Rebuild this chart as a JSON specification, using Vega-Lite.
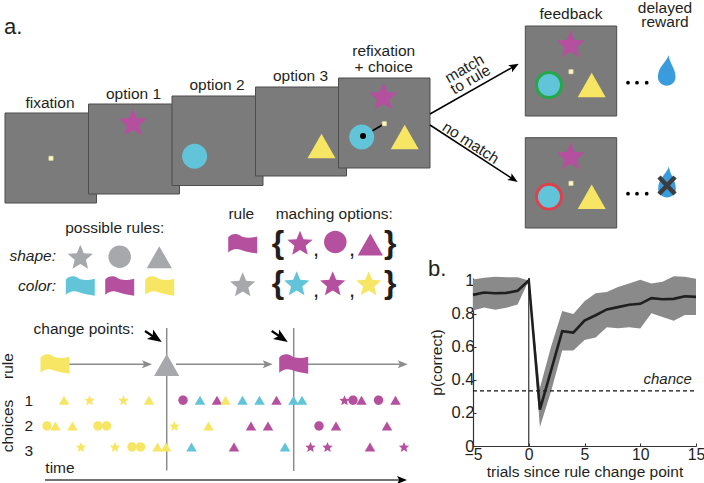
{
"$schema":"https://vega.github.io/schema/vega-lite/v6.json",
"padding":0,"spacing":0,"bounds":"flush","background":"white",
"config":{"view":{"stroke":null},"font":"Liberation Sans","concat":{"spacing":0},"text":{"font":"Liberation Sans"}},
"vconcat":[
{"width":704,"height":277,
"encoding":{
"x":{"field":"x","type":"quantitative","scale":{"domain":[0,704],"nice":false,"zero":false},"axis":null},
"y":{"field":"y","type":"quantitative","scale":{"domain":[277,0],"nice":false,"zero":false},"axis":null},
"color":{"field":"hue","type":"nominal","legend":null,"scale":{"domain":["magenta","cyan","yellow","gray","green","red","blue","black","line","dark","cross"],"range":["#b5509f","#62c4d9","#f7e663","#a7a8ab","#25a84a","#e0404a","#3a9cdc","#000000","#8c8c8c","#444444","#3d3d3f"]}}
},
"layer":[
{"data":{"values":[
{"name":"fixation","x":4,"x2":95.5,"y":112,"y2":202},
{"name":"option 1","x":87.5,"x2":178.5,"y":103,"y2":193},
{"name":"option 2","x":171,"x2":262,"y":95,"y2":184.5},
{"name":"option 3","x":254.5,"x2":345.5,"y":86,"y2":175},
{"name":"choice","x":337.5,"x2":429,"y":77,"y2":167},
{"name":"match","x":524.3,"x2":615.7,"y":25,"y2":115},
{"name":"no match","x":524.3,"x2":615.7,"y":136.7,"y2":227}]},
"mark":{"type":"rect","fill":"#7b7b7b","stroke":"#4d4d4d","strokeWidth":1},
"encoding":{"x2":{"field":"x2"},"y2":{"field":"y2"},"color":{"value":"#7b7b7b"}}},
{"data":{"values":[
{"x":429,"y":113,"x2":514,"y2":64.8,"hue":"black"},
{"x":429,"y":124,"x2":513,"y2":178.7,"hue":"black"},
{"x":383,"y":123,"x2":361,"y2":136,"hue":"black"},
{"x":68,"y":363.3,"x2":146,"y2":363.3,"hue":"line"},
{"x":175,"y":363.3,"x2":266,"y2":363.3,"hue":"line"},
{"x":305,"y":363.3,"x2":400,"y2":363.3,"hue":"line"},
{"x":165.7,"y":327,"x2":165.7,"y2":469.5,"hue":"line"},
{"x":292.7,"y":327,"x2":292.7,"y2":470,"hue":"line"},
{"x":44,"y":479,"x2":402,"y2":479,"hue":"dark"}]},
"mark":{"type":"rule","strokeWidth":1.5},
"encoding":{"x2":{"field":"x2"},"y2":{"field":"y2"}}},
{"data":{"values":[
{"x":144,"y":330,"x2":155,"y2":337.3,"hue":"black"},
{"x":270.7,"y":330,"x2":281.7,"y2":337.3,"hue":"black"}]},
"mark":{"type":"rule","strokeWidth":2.2},
"encoding":{"x2":{"field":"x2"},"y2":{"field":"y2"}}},
{"data":{"values":[
{"x":513.4,"y":65.2,"turn":330.4,"hue":"black"},
{"x":512.5,"y":178.3,"turn":33,"hue":"black"},
{"x":146,"y":363.3,"turn":0,"hue":"line"},
{"x":266.7,"y":363.3,"turn":0,"hue":"line"},
{"x":401.7,"y":363.3,"turn":0,"hue":"line"},
{"x":401,"y":479,"turn":0,"hue":"black"}]},
"mark":{"type":"point","filled":true,"opacity":1,"size":100,"shape":"M1,0L-1,-.8L-.55,0L-1,.8Z"},
"encoding":{"angle":{"field":"turn","type":"quantitative","scale":null}}},
{"data":{"values":[
{"x":154.9,"y":337.1,"turn":33.4,"hue":"black"},
{"x":280.9,"y":337.1,"turn":33.4,"hue":"black"}]},
"mark":{"type":"point","filled":true,"opacity":1,"size":196,"shape":"M1,0L-1,-.8L-.55,0L-1,.8Z"},
"encoding":{"angle":{"field":"turn","type":"quantitative","scale":null}}},
{"data":{"values":[
{"x":132,"y":121,"glyph":"star","hue":"magenta"},
{"x":193.6,"y":155.3,"glyph":"circle","hue":"cyan"},
{"x":320.5,"y":145,"glyph":"triangle","hue":"yellow"},
{"x":382.3,"y":95,"glyph":"star","hue":"magenta"},
{"x":360.7,"y":136,"glyph":"circle","hue":"cyan"},
{"x":403.7,"y":136,"glyph":"triangle","hue":"yellow"},
{"x":569.7,"y":42.7,"glyph":"star","hue":"magenta"},
{"x":548,"y":84,"glyph":"circle","hue":"cyan"},
{"x":590.7,"y":84,"glyph":"triangle","hue":"yellow"},
{"x":569.7,"y":154.7,"glyph":"star","hue":"magenta"},
{"x":548,"y":195.7,"glyph":"circle","hue":"cyan"},
{"x":590.7,"y":195.7,"glyph":"triangle","hue":"yellow"},
{"x":665.7,"y":69.3,"glyph":"drop","hue":"blue"},
{"x":666,"y":181,"glyph":"drop","hue":"blue"}]},
"mark":{"type":"point","filled":true,"opacity":1,"size":784,"strokeWidth":0},
"encoding":{"shape":{"field":"glyph","type":"nominal","legend":null,"scale":{"domain":["star","circle","triangle","flag","drop"],"range":["M0,-.95L.278,-.282L1,-.225L.449,.246L.617,.949L0,.572L-.617,.949L-.449,.246L-1,-.225L-.278,-.282Z","M.893,0A.893,.893 0 1,1 -.893,0A.893,.893 0 1,1 .893,0Z","M0,-.87L1,.87L-1,.87Z","M-1.15,-.52C-.86,-.83 -.46,-.83 -.17,-.63C.17,-.4 .69,-.46 1.15,-.58L1.15,.78C.69,.71 .23,.63 -.17,.48C-.52,.35 -.86,.44 -1.15,.69Z","M.13,-1.1C.05,-.66 -.63,-.27 -.63,.46C-.63,.85 -.33,1.1 0,1.1C.35,1.1 .63,.85 .63,.46C.63,-.11 .22,-.49 .13,-1.1Z"]}}}},
{"data":{"values":[
{"x":548,"y":84,"glyph":"circle","hue":"green"},
{"x":548,"y":195.7,"glyph":"circle","hue":"red"}]},
"mark":{"type":"point","filled":false,"opacity":1,"size":784,"strokeWidth":3,"shape":"M.893,0A.893,.893 0 1,1 -.893,0A.893,.893 0 1,1 .893,0Z"}},
{"data":{"values":[
{"x":79.3,"y":255.7,"glyph":"star","hue":"gray"},
{"x":118.7,"y":255.7,"glyph":"circle","hue":"gray"},
{"x":158.3,"y":256.2,"glyph":"triangle","hue":"gray"},
{"x":79.3,"y":285,"glyph":"flag","hue":"cyan"},
{"x":118.7,"y":285,"glyph":"flag","hue":"magenta"},
{"x":158.7,"y":285,"glyph":"flag","hue":"yellow"},
{"x":241.7,"y":242.7,"glyph":"flag","hue":"magenta"},
{"x":241.7,"y":283.3,"glyph":"star","hue":"gray"},
{"x":299,"y":241.7,"glyph":"star","hue":"magenta"},
{"x":334.3,"y":241,"glyph":"circle","hue":"magenta"},
{"x":369.3,"y":243.5,"glyph":"triangle","hue":"magenta"},
{"x":295.7,"y":282.3,"glyph":"star","hue":"cyan"},
{"x":331.7,"y":282.3,"glyph":"star","hue":"magenta"},
{"x":367.7,"y":282.3,"glyph":"star","hue":"yellow"},
{"x":54,"y":363,"glyph":"flag","hue":"yellow"},
{"x":165.7,"y":364,"glyph":"triangle","hue":"gray"},
{"x":292.7,"y":363,"glyph":"flag","hue":"magenta"}]},
"mark":{"type":"point","filled":true,"opacity":1,"size":635,"strokeWidth":0},
"encoding":{"shape":{"field":"glyph","type":"nominal","legend":null,"scale":{"domain":["star","circle","triangle","flag","drop"],"range":["M0,-.95L.278,-.282L1,-.225L.449,.246L.617,.949L0,.572L-.617,.949L-.449,.246L-1,-.225L-.278,-.282Z","M.893,0A.893,.893 0 1,1 -.893,0A.893,.893 0 1,1 .893,0Z","M0,-.87L1,.87L-1,.87Z","M-1.15,-.52C-.86,-.83 -.46,-.83 -.17,-.63C.17,-.4 .69,-.46 1.15,-.58L1.15,.78C.69,.71 .23,.63 -.17,.48C-.52,.35 -.86,.44 -1.15,.69Z","M.13,-1.1C.05,-.66 -.63,-.27 -.63,.46C-.63,.85 -.33,1.1 0,1.1C.35,1.1 .63,.85 .63,.46C.63,-.11 .22,-.49 .13,-1.1Z"]}}}},
{"data":{"values":[
{"x":50,"y":157.3},{"x":383.3,"y":122.7},{"x":570,"y":70.7},{"x":570,"y":182.3}]},
"mark":{"type":"point","shape":"square","filled":true,"opacity":1,"size":18,"fill":"#fdf6c3","stroke":"#e3d9a0","strokeWidth":0.6},
"encoding":{"color":{"value":"#fdf6c3"}}},
{"data":{"values":[{"x":362,"y":135,"hue":"black"}]},
"mark":{"type":"point","shape":"circle","filled":true,"opacity":1,"size":36}},
{"data":{"values":[
{"x":627,"y":81.7,"hue":"black"},{"x":636,"y":81.7,"hue":"black"},{"x":645.7,"y":81.7,"hue":"black"},
{"x":627,"y":192.7,"hue":"black"},{"x":636,"y":192.7,"hue":"black"},{"x":645.7,"y":192.7,"hue":"black"}]},
"mark":{"type":"point","shape":"circle","filled":true,"opacity":1,"size":14}},
{"data":{"values":[
{"x":658,"y":176,"x2":674,"y2":193,"hue":"cross"},
{"x":674,"y":176,"x2":658,"y2":193,"hue":"cross"}]},
"mark":{"type":"rule","strokeWidth":4.5},
"encoding":{"x2":{"field":"x2"},"y2":{"field":"y2"}}},
{"data":{"values":[
{"x":49,"y":106.7,"label":"fixation"},{"x":132.5,"y":97.5,"label":"option 1"},{"x":216,"y":88.7,"label":"option 2"},{"x":299.5,"y":80,"label":"option 3"},
{"x":382.7,"y":55,"label":"refixation"},{"x":382.7,"y":71,"label":"+ choice"},
{"x":570,"y":18.3,"label":"feedback"},{"x":664,"y":11.7,"label":"delayed"},{"x":664,"y":26,"label":"reward"},
{"x":113.7,"y":232.3,"label":"possible rules:"},{"x":240.3,"y":217.7,"label":"rule"},{"x":333.3,"y":217.7,"label":"maching options:"},
{"x":83,"y":333.3,"label":"change points:"},
{"x":27.7,"y":405,"label":"1"},{"x":27.7,"y":430,"label":"2"},{"x":27.7,"y":455,"label":"3"},
{"x":59,"y":472.3,"label":"time"}]},
"mark":{"type":"text","fontSize":15.5,"align":"center","baseline":"alphabetic"},
"encoding":{"text":{"field":"label"},"color":{"value":"#231f20"}}},
{"data":{"values":[
{"x":55,"y":260,"label":"shape:"},{"x":55,"y":290,"label":"color:"}]},
"mark":{"type":"text","fontSize":15.5,"fontStyle":"italic","align":"right","baseline":"alphabetic"},
"encoding":{"text":{"field":"label"},"color":{"value":"#231f20"}}},
{"data":{"values":[
{"x":11.5,"y":365,"label":"rule","turn":270},
{"x":11.5,"y":425,"label":"choices","turn":270},
{"x":466,"y":72,"label":"match","turn":330},
{"x":472,"y":83,"label":"to rule","turn":330},
{"x":467,"y":146,"label":"no match","turn":33}]},
"mark":{"type":"text","fontSize":15.5,"align":"center","baseline":"alphabetic"},
"encoding":{"text":{"field":"label"},"color":{"value":"#231f20"},"angle":{"field":"turn","type":"quantitative","scale":null}}},
{"data":{"values":[
{"x":277,"y":251.5,"label":"{"},{"x":389.3,"y":251.5,"label":"}"},
{"x":277,"y":291.6,"label":"{"},{"x":389.3,"y":291.6,"label":"}"}]},
"mark":{"type":"text","fontSize":32,"fontWeight":"bold","align":"center","baseline":"alphabetic"},
"encoding":{"text":{"field":"label"},"color":{"value":"#231f20"}}},
{"data":{"values":[
{"x":315,"y":255,"label":","},{"x":351,"y":255,"label":","},
{"x":315,"y":296,"label":","},{"x":351,"y":296,"label":","}]},
"mark":{"type":"text","fontSize":22,"align":"center","baseline":"alphabetic"},
"encoding":{"text":{"field":"label"},"color":{"value":"#231f20"}}},
{"data":{"values":[{"x":3,"y":33,"label":"a."},{"x":427,"y":275,"label":"b."}]},
"mark":{"type":"text","fontSize":22,"align":"left","baseline":"alphabetic"},
"encoding":{"text":{"field":"label"},"color":{"value":"#231f20"}}}
]},
{"spacing":0,"bounds":"flush","hconcat":[
{"width":472,"height":206,
"data":{"values":[
{"trial":0,"lane":425,"glyph":"circle","hue":"yellow"},
{"trial":1,"lane":425,"glyph":"triangle","hue":"yellow"},
{"trial":2,"lane":399.3,"glyph":"triangle","hue":"yellow"},
{"trial":3,"lane":425,"glyph":"triangle","hue":"yellow"},
{"trial":4,"lane":446,"glyph":"star","hue":"yellow"},
{"trial":5,"lane":399.3,"glyph":"star","hue":"yellow"},
{"trial":6,"lane":425,"glyph":"circle","hue":"yellow"},
{"trial":7,"lane":425,"glyph":"circle","hue":"yellow"},
{"trial":8,"lane":446,"glyph":"star","hue":"yellow"},
{"trial":9,"lane":399.3,"glyph":"star","hue":"yellow"},
{"trial":10,"lane":446,"glyph":"circle","hue":"yellow"},
{"trial":11,"lane":446,"glyph":"circle","hue":"yellow"},
{"trial":12,"lane":399.3,"glyph":"triangle","hue":"yellow"},
{"trial":13,"lane":446,"glyph":"triangle","hue":"yellow"},
{"trial":14,"lane":446,"glyph":"triangle","hue":"yellow"},
{"trial":15,"lane":425,"glyph":"star","hue":"yellow"},
{"trial":16,"lane":399.3,"glyph":"circle","hue":"magenta"},
{"trial":17,"lane":446,"glyph":"triangle","hue":"cyan"},
{"trial":18,"lane":399.3,"glyph":"triangle","hue":"cyan"},
{"trial":19,"lane":425,"glyph":"triangle","hue":"yellow"},
{"trial":20,"lane":399.3,"glyph":"triangle","hue":"magenta"},
{"trial":21,"lane":399.3,"glyph":"triangle","hue":"yellow"},
{"trial":22,"lane":446,"glyph":"triangle","hue":"magenta"},
{"trial":23,"lane":399.3,"glyph":"triangle","hue":"cyan"},
{"trial":24,"lane":425,"glyph":"triangle","hue":"magenta"},
{"trial":25,"lane":399.3,"glyph":"triangle","hue":"cyan"},
{"trial":26,"lane":425,"glyph":"triangle","hue":"magenta"},
{"trial":27,"lane":399.3,"glyph":"triangle","hue":"magenta"},
{"trial":28,"lane":446,"glyph":"triangle","hue":"cyan"},
{"trial":29,"lane":399.3,"glyph":"triangle","hue":"cyan"},
{"trial":30,"lane":399.3,"glyph":"triangle","hue":"cyan"},
{"trial":31,"lane":446,"glyph":"star","hue":"magenta"},
{"trial":32,"lane":425,"glyph":"circle","hue":"magenta"},
{"trial":33,"lane":446,"glyph":"star","hue":"magenta"},
{"trial":34,"lane":425,"glyph":"triangle","hue":"magenta"},
{"trial":35,"lane":399.3,"glyph":"star","hue":"magenta"},
{"trial":36,"lane":399.3,"glyph":"circle","hue":"magenta"},
{"trial":37,"lane":399.3,"glyph":"triangle","hue":"magenta"},
{"trial":38,"lane":446,"glyph":"triangle","hue":"magenta"},
{"trial":39,"lane":399.3,"glyph":"circle","hue":"magenta"},
{"trial":40,"lane":425,"glyph":"triangle","hue":"magenta"},
{"trial":41,"lane":399.3,"glyph":"triangle","hue":"magenta"},
{"trial":42,"lane":446,"glyph":"star","hue":"magenta"}]},
"mark":{"type":"point","filled":true,"opacity":1,"size":110,"strokeWidth":0},
"encoding":{
"x":{"field":"trial","type":"quantitative","scale":{"domain":[-5.412,50.118],"nice":false,"zero":false},"axis":null},
"y":{"field":"lane","type":"quantitative","scale":{"domain":[483,277],"nice":false,"zero":false},"axis":null},
"color":{"field":"hue","type":"nominal","legend":null,"scale":{"domain":["magenta","cyan","yellow"],"range":["#b14f9f","#62c4d9","#f4e41c"]}},
"shape":{"field":"glyph","type":"nominal","legend":null,"scale":{"domain":["star","circle","triangle"],"range":["M0,-.95L.278,-.282L1,-.225L.449,.246L.617,.949L0,.572L-.617,.949L-.449,.246L-1,-.225L-.278,-.282Z","M1,0A1,1 0 1,1 -1,0A1,1 0 1,1 1,0Z","M0,-.87L1,.87L-1,.87Z"]}}
}},
{"width":223,"height":168,
"encoding":{
"x":{"field":"t","type":"quantitative","scale":{"domain":[-5,15],"nice":false,"zero":false},
"axis":{"title":"trials since rule change point","titleFont":"Liberation Sans","titleFontSize":15.5,"titleFontWeight":"normal","titleColor":"#231f20","titlePadding":3,"values":[-5,0,5,10,15],"format":"d","labelFont":"Liberation Sans","labelFontSize":15.8,"labelColor":"#231f20","labelPadding":4,"tickSize":-3,"tickColor":"#333333","domainColor":"#333333","domainWidth":1.2,"grid":false,"labelFlush":false,"labelOverlap":false}},
"y":{"type":"quantitative","scale":{"domain":[0,1.015],"nice":false,"zero":false},
"axis":{"title":"p(correct)","titleFont":"Liberation Sans","titleFontSize":15.5,"titleFontWeight":"normal","titleColor":"#231f20","titlePadding":7,"values":[0,0.2,0.4,0.6,0.8,1],"format":".1~f","labelFont":"Liberation Sans","labelFontSize":16.5,"labelColor":"#231f20","labelPadding":2,"tickSize":-3,"tickColor":"#333333","domainColor":"#333333","domainWidth":1.2,"grid":false,"labelFlush":false,"labelOverlap":false}}
},
"data":{"values":[
{"t":-5,"mean":0.913,"hi":1.006,"lo":0.819},
{"t":-4,"mean":0.927,"hi":1.016,"lo":0.837},
{"t":-3,"mean":0.923,"hi":1.022,"lo":0.823},
{"t":-2,"mean":0.925,"hi":1.02,"lo":0.835},
{"t":-1,"mean":0.938,"hi":1.02,"lo":0.855},
{"t":0,"mean":1,"hi":1,"lo":1},
{"t":1,"mean":0.22,"hi":0.35,"lo":0.115},
{"t":2,"mean":0.456,"hi":0.6,"lo":0.33},
{"t":3,"mean":0.694,"hi":0.815,"lo":0.577},
{"t":4,"mean":0.685,"hi":0.798,"lo":0.577},
{"t":5,"mean":0.758,"hi":0.875,"lo":0.641},
{"t":6,"mean":0.79,"hi":0.923,"lo":0.655},
{"t":7,"mean":0.825,"hi":0.931,"lo":0.718},
{"t":8,"mean":0.839,"hi":0.96,"lo":0.712},
{"t":9,"mean":0.853,"hi":0.982,"lo":0.718},
{"t":10,"mean":0.859,"hi":1.004,"lo":0.71},
{"t":11,"mean":0.893,"hi":0.982,"lo":0.802},
{"t":12,"mean":0.887,"hi":0.992,"lo":0.78},
{"t":13,"mean":0.889,"hi":1.026,"lo":0.756},
{"t":14,"mean":0.905,"hi":1.022,"lo":0.792},
{"t":15,"mean":0.901,"hi":1.01,"lo":0.792}]},
"layer":[
{"mark":{"type":"area","color":"#8a8a8a","opacity":1,"clip":false},
"encoding":{"y":{"field":"lo","type":"quantitative"},"y2":{"field":"hi"}}},
{"data":{"values":[{"t":0,"lo":0,"hi":1.015}]},
"mark":{"type":"rule","color":"#333333","strokeWidth":1.2},
"encoding":{"y":{"field":"lo","type":"quantitative"},"y2":{"field":"hi"}}},
{"data":{"values":[{"t":-5,"level":0.333,"t2":15}]},
"mark":{"type":"rule","color":"#111111","strokeWidth":1.2,"strokeDash":[4,3]},
"encoding":{"x2":{"field":"t2"},"y":{"field":"level","type":"quantitative"}}},
{"mark":{"type":"line","color":"#1f1f1f","strokeWidth":2.6,"clip":false},
"encoding":{"y":{"field":"mean","type":"quantitative"}}},
{"data":{"values":[{"t":12.46,"level":0.373,"label":"chance"}]},
"mark":{"type":"text","font":"Liberation Sans","fontSize":15,"fontStyle":"italic","align":"center","baseline":"alphabetic","color":"#231f20"},
"encoding":{"y":{"field":"level","type":"quantitative"},"text":{"field":"label"}}}
]}
]}
]}
